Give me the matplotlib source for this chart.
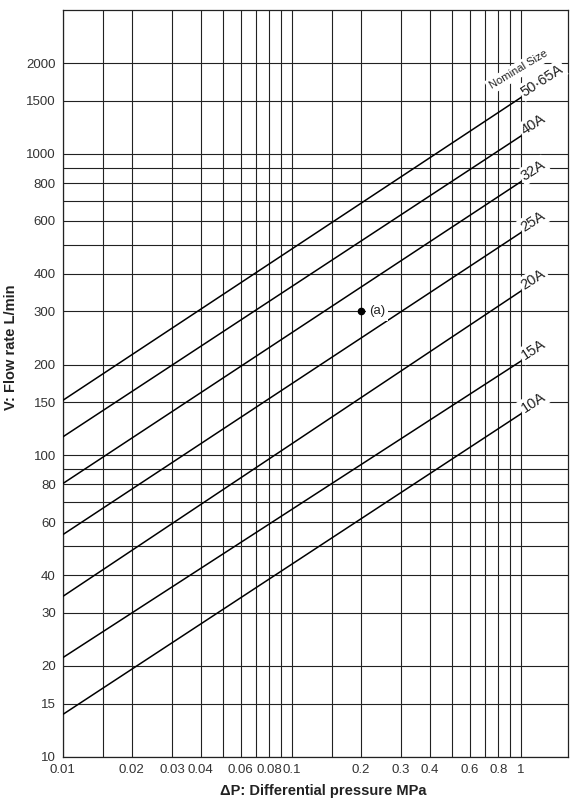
import matplotlib
matplotlib.use("Agg")
import matplotlib.pyplot as plt
from matplotlib.ticker import FixedLocator, NullLocator

plt.rcParams["font.family"] = ["Liberation Sans", "DejaVu Sans"]

# grid lines and tick labels
x_grid = [0.01, 0.015, 0.02, 0.03, 0.04, 0.05, 0.06, 0.07, 0.08, 0.09,
          0.1, 0.15, 0.2, 0.3, 0.4, 0.5, 0.6, 0.7, 0.8, 0.9, 1]
x_labels = ["0.01", "", "0.02", "0.03", "0.04", "", "0.06", "", "0.08", "",
            "0.1", "", "0.2", "0.3", "0.4", "", "0.6", "", "0.8", "", "1"]
y_grid = [10, 15, 20, 30, 40, 50, 60, 70, 80, 90, 100, 150, 200, 300, 400,
          500, 600, 700, 800, 900, 1000, 1500, 2000]
y_labels = ["10", "15", "20", "30", "40", "", "60", "", "80", "", "100", "150",
            "200", "300", "400", "", "600", "", "800", "", "1000", "1500", "2000"]

# nominal sizes: flow at dP=0.01 and dP=1 MPa
sizes = ["10A", "15A", "20A", "25A", "32A", "40A", "50·65A"]
flow_low = [13.8, 21.3, 34, 54.5, 80.5, 115, 152]
flow_high = [137, 205, 350, 547, 807, 1144, 1535]
dp_ends = [0.01, 1]

# example point (a)
pt_x = 0.2
pt_y = 300

fig = plt.figure(figsize=(5.74, 8), dpi=100)
ax = fig.add_axes([62.7 / 574, 1 - 756.7 / 800, (568 - 62.7) / 574, (756.7 - 10) / 800])
ax.set_xscale("log")
ax.set_yscale("log")
ax.set_xlim(0.01, 1.61)
ax.set_ylim(10, 3000)

for xv in x_grid:
    ax.axvline(xv, color="#222222", lw=0.8, zorder=1)
for yv in y_grid:
    ax.axhline(yv, color="#222222", lw=0.8, zorder=1)

for s, lo, hi in zip(sizes, flow_low, flow_high):
    ax.plot(dp_ends, [lo, hi], color="black", lw=1.1, zorder=3)
    ax.annotate(s, xy=(dp_ends[1], hi), xytext=(4, -1), textcoords="offset points",
                ha="left", va="bottom", rotation=33, rotation_mode="anchor",
                fontsize=10.5, color="#222222", zorder=5,
                bbox=dict(facecolor="white", edgecolor="none", pad=1.5))

ax.text(0.757, 1614, "Nominal Size", rotation=31, rotation_mode="anchor",
        ha="left", va="bottom", fontsize=8, color="#222222", zorder=5,
        bbox=dict(facecolor="white", edgecolor="none", pad=2))

ax.plot([pt_x], [pt_y], "o", color="black", ms=4.5, zorder=4)
ax.annotate("(a)", xy=(pt_x, pt_y), xytext=(6, 0), textcoords="offset points",
            ha="left", va="center", fontsize=9.5, color="#222222", zorder=5,
            bbox=dict(facecolor="white", edgecolor="none", pad=2.5))

ax.xaxis.set_major_locator(FixedLocator(x_grid))
ax.xaxis.set_minor_locator(NullLocator())
ax.set_xticklabels(x_labels)
ax.yaxis.set_major_locator(FixedLocator(y_grid))
ax.yaxis.set_minor_locator(NullLocator())
ax.set_yticklabels(y_labels)
ax.tick_params(length=0, labelsize=9.5, labelcolor="#333333")
ax.tick_params(axis="x", pad=5)
ax.tick_params(axis="y", pad=5)

for sp in ax.spines.values():
    sp.set_color("#222222")
    sp.set_linewidth(0.9)

fig.text(323 / 574, 1 - 791 / 800, "ΔP: Differential pressure MPa", ha="center", va="center",
         fontsize=10.5, fontweight="bold", color="#222222")
fig.text(11 / 574, 1 - 347 / 800, "V: Flow rate L/min", ha="center", va="center",
         rotation=90, fontsize=10.5, fontweight="bold", color="#222222")

fig.savefig("out.png", dpi=100)
